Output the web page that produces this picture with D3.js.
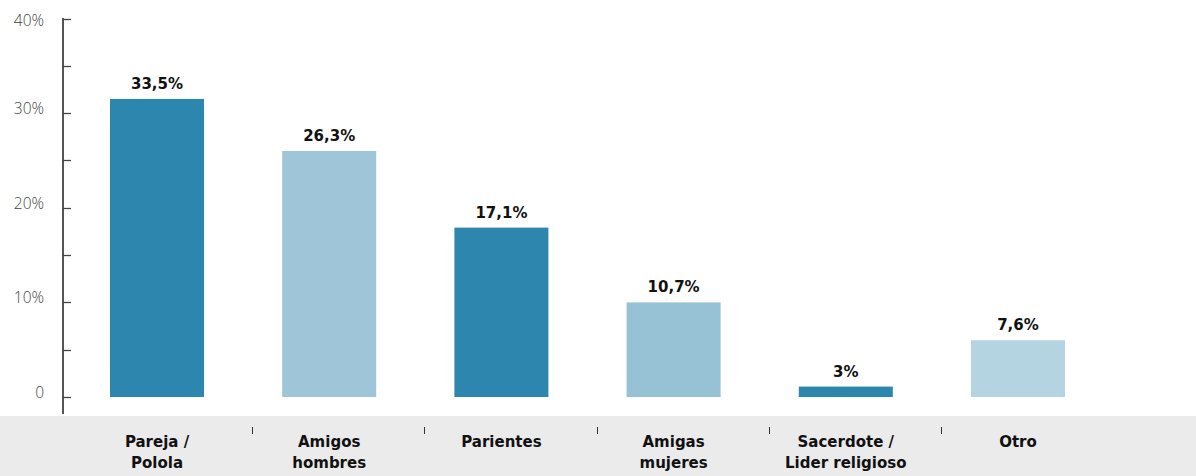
<!DOCTYPE html>
<html><head><meta charset="utf-8">
<script src="https://cdn.jsdelivr.net/npm/d3@7"></script>
<style>html,body{margin:0;padding:0;background:#fff;}svg{display:block;}</style>
</head><body>
<svg id="c" width="1196" height="476"></svg>
<script>
const categories = [["Pareja /","Polola"],["Amigos","hombres"],["Parientes"],["Amigas","mujeres"],["Sacerdote /","Lider religioso"],["Otro"]];
const values = [31.5, 26.0, 17.9, 10.0, 1.1, 6.0];
const valueLabels = ["33,5%","26,3%","17,1%","10,7%","3%","7,6%"];
const colors = ["#2d86ad","#9fc5d8","#2d86ad","#97c2d6","#2d86ad","#b4d4e1"];
const yTicks = [0,10,20,30,40];
const yTickLabels = ["0","10%","20%","30%","40%"];
const yMinorTicks = [5,15,25,35];

const svg = d3.select("#c");
const keys = categories.map((c,i)=>"c"+i);
const x = d3.scaleBand().domain(keys).range([110,1065]).paddingInner(0.454).paddingOuter(0);
const y = d3.scaleLinear().domain([0,40]).range([397,18.5]);

// gray band
svg.append("rect").attr("x",0).attr("y",416).attr("width",1196).attr("height",60).attr("fill","#ebebeb");

// axis
const ax = svg.append("g").attr("transform","translate(63,0)");
ax.append("line").attr("x1",0).attr("x2",0).attr("y1",y(40)-0.5).attr("y2",414).attr("stroke","#555").attr("stroke-width",2);
ax.selectAll("line.t").data(yTicks.concat(yMinorTicks)).join("line").attr("class","t")
  .attr("x1",0).attr("x2",8).attr("y1",d=>Math.round(y(d))+0.5).attr("y2",d=>Math.round(y(d))+0.5)
  .attr("stroke","#444").attr("stroke-width",1.3);
ax.selectAll("text").data(yTicks).join("text")
  .attr("x",-19).attr("y",d=>Math.max(y(d)+1, 25.5))
  .attr("text-anchor","end")
  .attr("font-family","'Open Sans'").attr("font-weight",300).attr("font-size",15.5)
  .attr("fill","#444").text((d,i)=>yTickLabels[i]);

// bars
svg.selectAll("rect.bar").data(values).join("rect").attr("class","bar")
  .attr("x",(d,i)=>x(keys[i])).attr("width",x.bandwidth())
  .attr("y",d=>y(d)).attr("height",d=>y(0)-y(d))
  .attr("fill",(d,i)=>colors[i]);

// value labels
svg.selectAll("text.v").data(values).join("text").attr("class","v")
  .attr("x",(d,i)=>x(keys[i])+x.bandwidth()/2).attr("y",d=>y(d)-10)
  .attr("text-anchor","middle")
  .attr("font-family","'DejaVu Sans'").attr("font-weight","bold").attr("font-size",15)
  .attr("fill","#111").text((d,i)=>valueLabels[i]);

// separators
svg.selectAll("line.sep").data(keys.slice(0,-1)).join("line").attr("class","sep")
  .attr("x1",k=>Math.round(x(k)+x.bandwidth()+x.step()*0.28)+0.5)
  .attr("x2",k=>Math.round(x(k)+x.bandwidth()+x.step()*0.28)+0.5)
  .attr("y1",427).attr("y2",434).attr("stroke","#333").attr("stroke-width",1);

// category labels
const cl = svg.selectAll("text.cat").data(categories).join("text").attr("class","cat")
  .attr("text-anchor","middle")
  .attr("font-family","'DejaVu Sans'").attr("font-weight","bold").attr("font-size",15)
  .attr("fill","#111");
cl.each(function(lines,i){
  const t = d3.select(this);
  lines.forEach((ln,j)=>{
    t.append("tspan").attr("x",x(keys[i])+x.bandwidth()/2).attr("y",446.5+j*21.5).text(ln);
  });
});
</script>
</body></html>
